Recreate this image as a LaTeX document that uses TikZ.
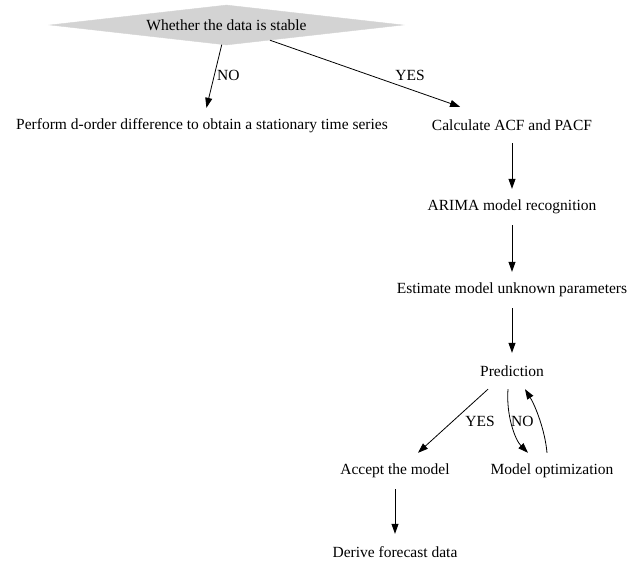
\documentclass[tikz,border=0pt]{standalone}
\usepackage{fontspec}
\setmainfont{Liberation Serif}
\usetikzlibrary{arrows.meta,shapes.geometric,calc}
\definecolor{gvgray}{RGB}{211,211,211}
\begin{document}
\begin{tikzpicture}[x=1pt,y=-1pt,
  every node/.style={font=\fontsize{15.5}{17}\selectfont},
  box/.style={inner sep=0pt,inner xsep=4pt,minimum height=36pt},
  lbl/.style={inner sep=0pt},
  arr/.style={draw=black,line width=0.8pt,-{Triangle[length=10pt,width=7pt]}},
  decision/.style={shape=diamond,aspect=9,inner sep=0pt,fill=gvgray,draw=gvgray,
    minimum width=353pt,minimum height=40pt}]
\useasboundingbox (0,0) rectangle (627,562);
\node[decision] (d) at (226.5,25) {Whether the data is stable};
\node[box] (perform) at (202,126) {Perform d-order difference to obtain a stationary time series};
\node[box] (calc) at (512,125) {Calculate ACF and PACF};
\node[box] (arima) at (512,207) {ARIMA model recognition};
\node[box] (est) at (512,290) {Estimate model unknown parameters};
\node[box] (pred) at (512,371) {Prediction};
\node[box] (acc) at (395,471) {Accept the model};
\node[box] (mopt) at (552,471) {Model optimization};
\node[box] (derive) at (395,552) {Derive forecast data};

\draw[arr] (d) -- (perform);
\draw[arr] (d) -- (calc);
\node[lbl,anchor=west] (lno1) at (217,75) {NO};
\node[lbl] (lyes1) at (410,75) {YES};
\draw[arr] (calc) -- (arima);
\draw[arr] (arima) -- (est);
\draw[arr] (est) -- (pred);
\draw[arr] ([xshift=-24pt]pred.south) -- ([xshift=23pt]acc.north);
\draw[arr] ([xshift=-4pt]pred.south) .. controls ($(pred.south)+(-6,26)$) and ($(mopt.north)+(-37,-13)$) .. ([xshift=-24pt]mopt.north);
\draw[arr] ([xshift=-5pt]mopt.north) .. controls ($(mopt.north)+(-7,-23)$) and ($(pred.south)+(23,16)$) .. ([xshift=13pt]pred.south);
\node[lbl] (lyes2) at (480,421) {YES};
\node[lbl,anchor=west] (lno2) at (511,421) {NO};
\draw[arr] (acc) -- (derive);
\end{tikzpicture}
\end{document}
